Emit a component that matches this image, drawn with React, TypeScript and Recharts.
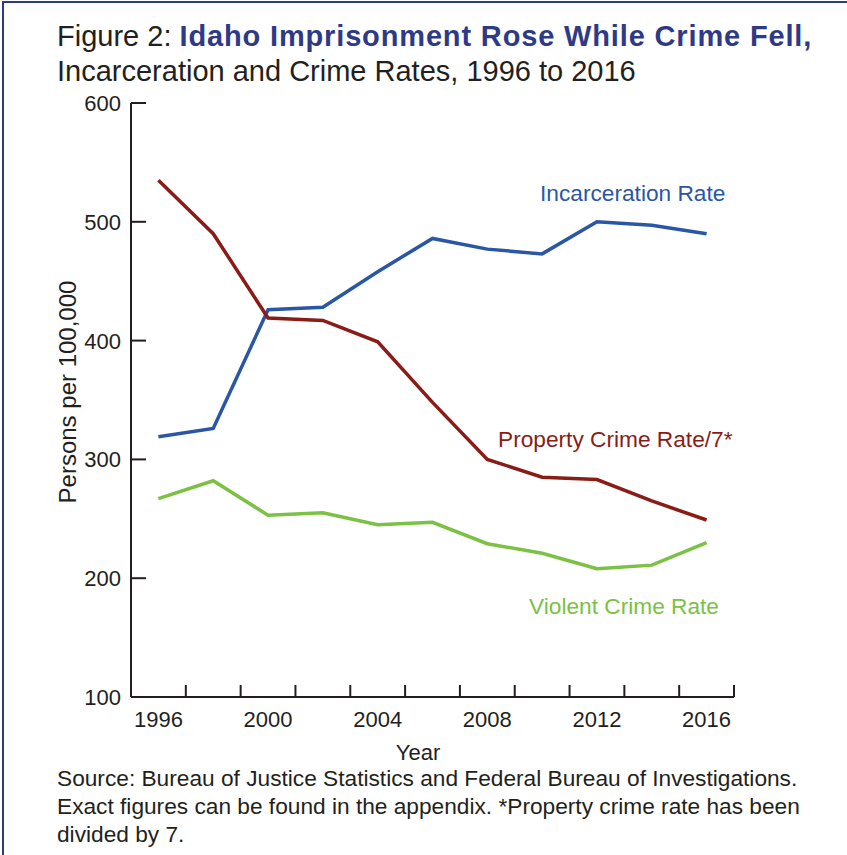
import { LineChart, Line, XAxis, YAxis } from "recharts"

// values, every two years
const years = [1996, 1998, 2000, 2002, 2004, 2006, 2008, 2010, 2012, 2014, 2016]
const incarceration = [319, 326, 426, 428, 458, 486, 477, 473, 500, 497, 490]
const propertyCrime = [535, 490, 419, 417, 399, 348, 300, 285, 283, 265, 249]
const violentCrime = [267, 282, 253, 255, 245, 247, 229, 221, 208, 211, 230]

const yTicks = [100, 200, 300, 400, 500, 600]
const tickYears = [1995, 1997, 1999, 2001, 2003, 2005, 2007, 2009, 2011, 2013, 2015, 2017]
const labelYears = [1996, 2000, 2004, 2008, 2012, 2016]

const data = years.map((year, i) => ({
  year,
  incarceration: incarceration[i],
  property: propertyCrime[i],
  violent: violentCrime[i],
}))

const FONT = "'Liberation Sans', Arial, Helvetica, sans-serif"
const AXIS = "#231f20"
const NAVY = "#2e3a86"
const BLUE = "#2a56a6"
const RED = "#8a1c17"
const GREEN = "#7bc143"

const XTick = (props: any) => {
  const { x, y, payload } = props
  const v = payload.value
  return (
    <g>
      {tickYears.includes(v) && <line x1={x} x2={x} y1={y} y2={y - 12} stroke={AXIS} strokeWidth={2} />}
      {labelYears.includes(v) && (
        <text x={x} y={y + 30} textAnchor="middle" fontSize={22} fontFamily={FONT} fill={AXIS}>
          {v}
        </text>
      )}
    </g>
  )
}

const YTick = (props: any) => {
  const { x, y, payload } = props
  return (
    <g>
      <line x1={x} x2={x + 15} y1={y} y2={y} stroke={AXIS} strokeWidth={2} />
      <text x={x - 10} y={y} dy="0.36em" textAnchor="end" fontSize={22} fontFamily={FONT} fill={AXIS}>
        {payload.value}
      </text>
    </g>
  )
}

const txt = (extra: any) => ({
  position: "absolute" as const,
  fontFamily: FONT,
  fontSize: 22.7,
  lineHeight: "22px",
  whiteSpace: "nowrap" as const,
  ...extra,
})

export default function App() {
  const allTicks = [...tickYears, ...labelYears].sort((a, b) => a - b)
  return (
    <div style={{ position: "absolute", left: 0, top: 0, width: 847, height: 855, background: "#fff", overflow: "hidden", fontFamily: FONT, color: AXIS }}>
      <div style={{ position: "absolute", left: 2, top: 1, width: 860, height: 870, borderTop: `2px solid ${NAVY}`, borderLeft: `2px solid ${NAVY}` }} />

      <div style={txt({ left: 57, top: 19, fontSize: 29, lineHeight: "35px" })}>
        Figure 2: <span style={{ fontWeight: "bold", color: NAVY, letterSpacing: "0.85px" }}>Idaho Imprisonment Rose While Crime Fell,</span>
        <br />
        Incarceration and Crime Rates, 1996 to 2016
      </div>

      <LineChart width={847} height={855} data={data} margin={{ top: 103, right: 113, bottom: 118, left: 71 }} style={{ position: "absolute", left: 0, top: 0 }}>
        <XAxis
          dataKey="year"
          type="number"
          domain={[1995, 2017]}
          ticks={allTicks}
          interval={0}
          height={40}
          tickLine={false}
          tickSize={0}
          tickMargin={0}
          axisLine={{ stroke: AXIS, strokeWidth: 2 }}
          tick={<XTick />}
        />
        <YAxis
          type="number"
          domain={[100, 600]}
          ticks={yTicks}
          interval={0}
          width={60}
          tickLine={false}
          tickSize={0}
          tickMargin={0}
          axisLine={{ stroke: AXIS, strokeWidth: 2 }}
          tick={<YTick />}
        />
        <Line dataKey="incarceration" stroke={BLUE} strokeWidth={3.5} dot={false} isAnimationActive={false} strokeLinejoin="miter" />
        <Line dataKey="property" stroke={RED} strokeWidth={3.5} dot={false} isAnimationActive={false} strokeLinejoin="miter" />
        <Line dataKey="violent" stroke={GREEN} strokeWidth={3.5} dot={false} isAnimationActive={false} strokeLinejoin="miter" />
      </LineChart>

      <div style={txt({ left: -82, top: 381, width: 300, fontSize: 24, textAlign: "center", transform: "rotate(-90deg)" })}>Persons per 100,000</div>
      <div style={txt({ left: 318, top: 742, width: 200, fontSize: 22, textAlign: "center" })}>Year</div>

      <div style={txt({ left: 540, top: 182, color: BLUE })}>Incarceration Rate</div>
      <div style={txt({ left: 498, top: 428, color: RED })}>Property Crime Rate/7*</div>
      <div style={txt({ left: 529, top: 595, color: GREEN })}>Violent Crime Rate</div>

      <div style={txt({ left: 57, top: 764, lineHeight: "28px" })}>
        Source: Bureau of Justice Statistics and Federal Bureau of Investigations.
        <br />
        Exact figures can be found in the appendix. *Property crime rate has been
        <br />
        divided by 7.
      </div>
    </div>
  )
}
